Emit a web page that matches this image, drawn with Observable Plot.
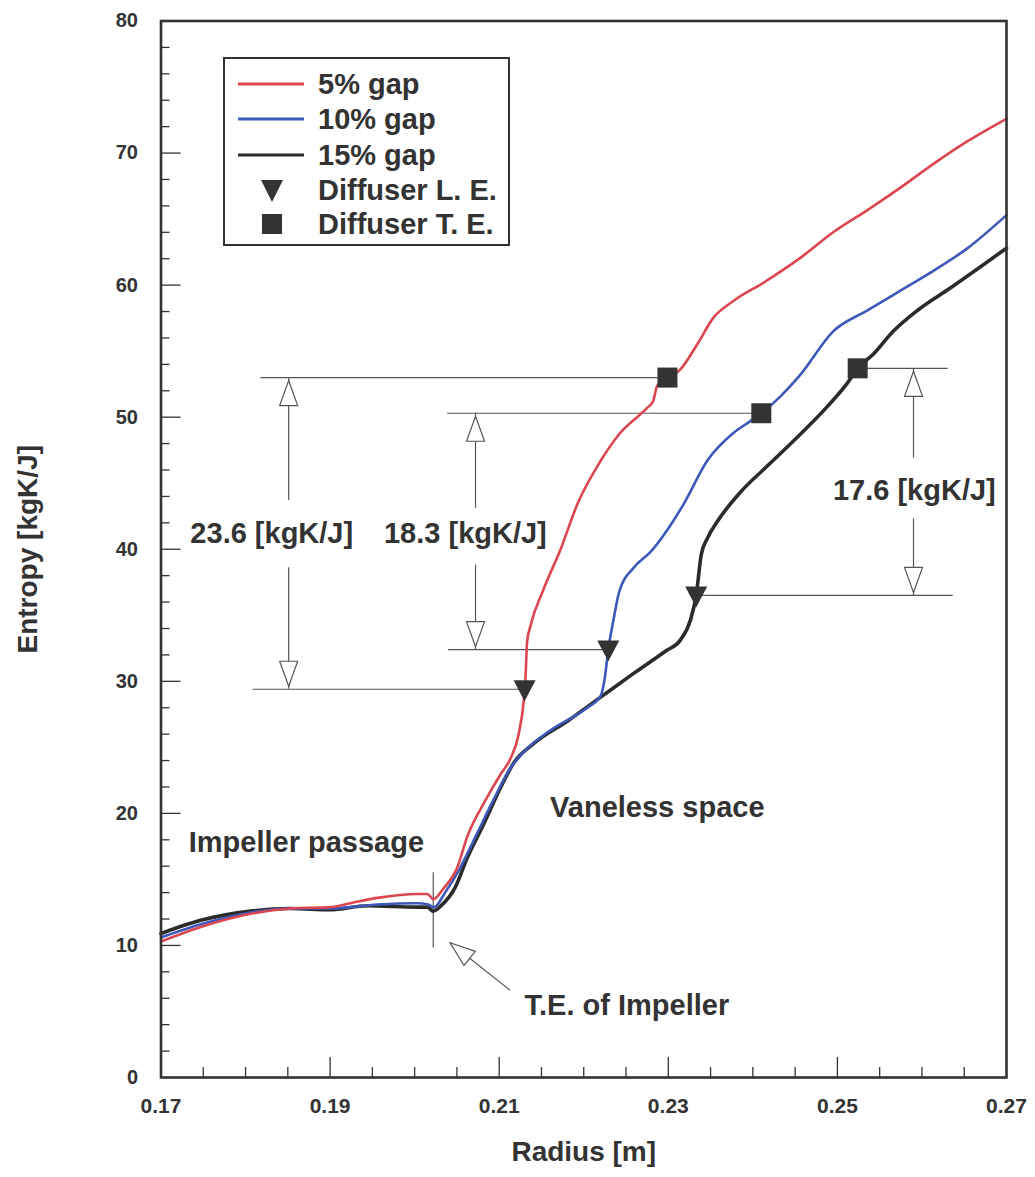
<!DOCTYPE html>
<html><head><meta charset="utf-8">
<script src="https://cdn.jsdelivr.net/npm/d3@7"></script>
<script src="https://cdn.jsdelivr.net/npm/@observablehq/plot@0.6"></script>
<style>
body{margin:0;background:#fff;}
#wrap{position:relative;width:1035px;height:1177px;font-family:"Liberation Sans",Arial,Helvetica,sans-serif;}
#legend{position:absolute;left:223px;top:57px;width:287px;height:189px;border:2.5px solid #333;box-sizing:border-box;background:#fff;}
.row{position:absolute;left:0;height:34px;display:flex;align-items:center;}
.row span{font-weight:bold;font-size:29px;color:#333;position:absolute;left:93px;white-space:nowrap;line-height:34px;}
</style></head><body><div id="wrap"></div>
<script>
// ---- data ----
const radius5  = [0.1700,0.1747,0.1806,0.1853,0.1900,0.1924,0.1956,0.2003,0.2015,0.2022,0.2034,0.2051,0.2062,0.2083,0.2102,0.2113,0.2123,0.2129,0.2131,0.2133,0.2137,0.2152,0.2172,0.2193,0.2220,0.2243,0.2275,0.2282,0.2287,0.2299,0.2314,0.2335,0.2353,0.2377,0.2413,0.2457,0.2495,0.2536,0.2575,0.2614,0.2654,0.2700];
const entropy5 = [10.3,11.4,12.4,12.8,12.9,13.2,13.6,13.9,13.9,13.5,14.3,16.0,18.2,20.9,23.0,24.1,26.0,28.5,30.1,33.0,34.2,36.9,39.9,43.5,46.7,48.8,50.7,51.2,52.4,52.9,53.6,55.6,57.5,58.8,60.2,62.1,64.0,65.7,67.4,69.2,70.9,72.6];
const radius10  = [0.1700,0.1747,0.1806,0.1853,0.1900,0.1956,0.2003,0.2016,0.2023,0.2036,0.2054,0.2074,0.2093,0.2113,0.2133,0.2161,0.2204,0.2220,0.2225,0.2229,0.2235,0.2242,0.2259,0.2279,0.2318,0.2346,0.2377,0.2397,0.2410,0.2433,0.2456,0.2495,0.2536,0.2575,0.2614,0.2654,0.2700];
const entropy10 = [10.6,11.6,12.5,12.8,12.8,13.1,13.2,13.1,12.9,14.0,15.9,18.5,21.0,23.4,24.9,26.3,28.0,28.9,30.3,32.4,34.6,36.8,38.6,39.8,43.4,46.7,48.8,49.7,50.3,51.6,53.2,56.5,58.1,59.6,61.1,62.8,65.3];
const radius15  = [0.1700,0.1747,0.1806,0.1853,0.1900,0.1944,0.2003,0.2015,0.2022,0.2031,0.2048,0.2062,0.2081,0.2102,0.2117,0.2141,0.2181,0.2220,0.2259,0.2297,0.2314,0.2326,0.2333,0.2339,0.2346,0.2358,0.2385,0.2417,0.2448,0.2488,0.2512,0.2524,0.2543,0.2566,0.2595,0.2634,0.2700];
const entropy15 = [10.9,11.9,12.6,12.8,12.7,13.0,12.9,12.9,12.6,13.0,14.4,16.6,19.1,22.0,23.8,25.3,27.0,28.8,30.6,32.3,33.1,34.6,36.5,39.6,40.8,42.1,44.3,46.3,48.2,50.8,52.6,53.7,54.8,56.5,58.1,59.8,62.8];

const seriesNames  = ["5% gap", "10% gap", "15% gap"];
const seriesColors = ["#dc4650", "#3d58b8", "#2b2b2b"];

// diffuser leading / trailing edge markers
const leRadius  = [0.2130, 0.2229, 0.2333];
const leEntropy = [29.4, 32.4, 36.5];
const teRadius  = [0.2299, 0.2410, 0.2524];
const teEntropy = [53.0, 50.3, 53.7];

// dimension annotations
const dimLabels     = ["23.6 [kgK/J]", "18.3 [kgK/J]", "17.6 [kgK/J]"];
const dimLowStart   = [0.1809, 0.2040, 0.2333];
const dimLowEnd     = [0.2130, 0.2229, 0.2637];
const dimHighStart  = [0.1818, 0.2039, 0.2524];
const dimHighEnd    = [0.2299, 0.2410, 0.2631];
const dimArrowX     = [0.1851, 0.2072, 0.2590];
const dimUpperTail  = [43.7, 43.1, 46.9];
const dimLowerTail  = [38.6, 38.8, 42.3];
const dimLabelX     = [0.1831, 0.2060, 0.2591];
const dimLabelY     = [41.2, 41.2, 44.4];

// region labels
const regionLabels = ["Impeller passage", "Vaneless space", "T.E. of Impeller"];
const regionX      = [0.1872, 0.2287, 0.2251];
const regionY      = [17.8, 20.4, 5.45];
// impeller trailing edge marker and pointer
const impTE        = 0.2022;
const impTEspan    = [9.8, 15.5];
const pointerTail  = [0.2113, 6.6];
const pointerTip   = [0.2042, 10.2];

// axes
const xTickLabels = [0.17, 0.19, 0.21, 0.23, 0.25, 0.27];
const xMajorTicks = [0.19, 0.21, 0.23, 0.25];
const xMinorTicks = [0.175,0.18,0.185,0.195,0.2,0.205,0.215,0.22,0.225,0.235,0.24,0.245,0.255,0.26,0.265];
const yTickLabels = [0,10,20,30,40,50,60,70,80];
const yMajorTicks = [10,20,30,40,50,60,70];
const yMinorTicks = [2,4,6,8,12,14,16,18,22,24,26,28,32,34,36,38,42,44,46,48,52,54,56,58,62,64,66,68,72,74,76,78];
const xLabel = "Radius [m]";
const yLabel = "Entropy [kgK/J]";

// ---- build ----
const W = 1035, H = 1177, mL = 160.5, mR = 29, mT = 20.5, mB = 100;
const pxX = (W - mL - mR) / 0.1, pxY = (H - mT - mB) / 80;
const ink = "#333";

const series = [];
[[radius5, entropy5], [radius10, entropy10], [radius15, entropy15]].forEach(([rs, es], k) => {
  rs.forEach((r, i) => series.push({r, s: es[i], name: seriesNames[k]}));
});
const le = leRadius.map((r, i) => ({r, s: leEntropy[i]}));
const te = teRadius.map((r, i) => ({r, s: teEntropy[i]}));
const dims = dimLabels.map((t, i) => ({t, i}));

const triDown = {draw(c){ c.moveTo(-11,-9); c.lineTo(11,-9); c.lineTo(0,12); c.closePath(); }};
const square  = {draw(c){ c.rect(-10,-10,20,20); }};
const headUp  = {draw(c){ c.moveTo(0,3); c.lineTo(9,28); c.lineTo(-9,28); c.closePath(); }};
const headDown= {draw(c){ c.moveTo(0,-3); c.lineTo(9,-28); c.lineTo(-9,-28); c.closePath(); }};
const headPtr = {draw(c){ c.moveTo(0,0); c.lineTo(9,25); c.lineTo(-9,25); c.closePath(); }};

const thin = {stroke: "#555", strokeWidth: 1.2};
const curveOf = name => series.filter(d => d.name === name);

const chart = Plot.plot({
  width: W, height: H,
  marginLeft: mL, marginRight: mR, marginTop: mT, marginBottom: mB,
  style: {fontFamily: "'Liberation Sans', Arial, Helvetica, sans-serif", background: "#fff"},
  x: {domain: [0.17, 0.27], axis: null},
  y: {domain: [0, 80], axis: null},
  marks: [
    // ticks (inward)
    Plot.ruleX(xMajorTicks, {x: d => d, y1: 0, y2: 20 / pxY, stroke: ink, strokeWidth: 1.3}),
    Plot.ruleX(xMinorTicks, {x: d => d, y1: 0, y2: 10 / pxY, stroke: ink, strokeWidth: 1.3}),
    Plot.ruleY(yMajorTicks, {y: d => d, x1: 0.17, x2: 0.17 + 20 / pxX, stroke: ink, strokeWidth: 1.3}),
    Plot.ruleY(yMinorTicks, {y: d => d, x1: 0.17, x2: 0.17 + 9 / pxX, stroke: ink, strokeWidth: 1.3}),
    // tick labels
    Plot.text(xTickLabels, {x: d => d, frameAnchor: "bottom", dy: 35, text: d => d3.format(".2f")(d),
      fontSize: 21, fontWeight: "bold", fill: ink}),
    Plot.text(yTickLabels, {y: d => d, frameAnchor: "left", dx: -23, textAnchor: "end", text: d => String(d),
      fontSize: 20, fontWeight: "bold", fill: ink}),
    // axis titles
    Plot.text([xLabel], {frameAnchor: "bottom", dy: 83, text: d => d, fontSize: 28, fontWeight: "bold", fill: ink}),
    Plot.text([yLabel], {frameAnchor: "left", dx: -133, rotate: -90, textAnchor: "middle", text: d => d, fontSize: 28, fontWeight: "bold", fill: ink}),
    // dimension lines
    Plot.ruleY(dims, {y: d => leEntropy[d.i], x1: d => dimLowStart[d.i], x2: d => dimLowEnd[d.i], ...thin}),
    Plot.ruleY(dims, {y: d => teEntropy[d.i], x1: d => dimHighStart[d.i], x2: d => dimHighEnd[d.i], ...thin}),
    Plot.ruleX(dims, {x: d => dimArrowX[d.i], y1: d => dimUpperTail[d.i], y2: d => teEntropy[d.i], ...thin}),
    Plot.ruleX(dims, {x: d => dimArrowX[d.i], y1: d => dimLowerTail[d.i], y2: d => leEntropy[d.i], ...thin}),
    Plot.dot(dims, {x: d => dimArrowX[d.i], y: d => teEntropy[d.i], symbol: headUp, fill: "#fff", ...thin}),
    Plot.dot(dims, {x: d => dimArrowX[d.i], y: d => leEntropy[d.i], symbol: headDown, fill: "#fff", ...thin}),
    Plot.text(dims, {x: d => dimLabelX[d.i], y: d => dimLabelY[d.i], text: d => d.t, fontSize: 29, fontWeight: "bold", fill: ink}),
    // impeller trailing edge
    Plot.ruleX([impTE], {x: d => d, y1: impTEspan[0], y2: impTEspan[1], ...thin}),
    Plot.link([0], {x1: pointerTail[0], y1: pointerTail[1], x2: pointerTip[0], y2: pointerTip[1], ...thin}),
    Plot.dot([0], {x: pointerTip[0], y: pointerTip[1], symbol: headPtr, rotate: -51.3, fill: "#fff", ...thin}),
    // region labels
    Plot.text(regionLabels, {x: (d, i) => regionX[i], y: (d, i) => regionY[i], text: d => d, fontSize: 29, fontWeight: "bold", fill: ink}),
    // curves
    Plot.line(curveOf(seriesNames[2]), {x: "r", y: "s", stroke: seriesColors[2], strokeWidth: 3.6, curve: "monotone-x"}),
    Plot.line(curveOf(seriesNames[1]), {x: "r", y: "s", stroke: seriesColors[1], strokeWidth: 2.6, curve: "monotone-x"}),
    Plot.line(curveOf(seriesNames[0]), {x: "r", y: "s", stroke: seriesColors[0], strokeWidth: 2.6, curve: "monotone-x"}),
    // markers
    Plot.dot(le, {x: "r", y: "s", symbol: triDown, fill: ink, stroke: null}),
    Plot.dot(te, {x: "r", y: "s", symbol: square, fill: ink, stroke: null}),
    Plot.frame({stroke: ink, strokeWidth: 2.6})
  ]
});

const wrap = document.getElementById("wrap");
wrap.appendChild(chart);

// legend (overlay)
const legend = document.createElement("div");
legend.id = "legend";
const rowsY = [8, 43, 79, 114, 148];
const legendItems = seriesNames.map((n, i) => ({label: n, kind: "line", color: seriesColors[i]}))
  .concat([{label: "Diffuser L. E.", kind: "tri"}, {label: "Diffuser T. E.", kind: "sq"}]);
legendItems.forEach((it, i) => {
  const row = document.createElement("div");
  row.className = "row";
  row.style.top = rowsY[i] + "px";
  row.style.width = "280px";
  let sw = "";
  if (it.kind === "line") sw = `<svg width="90" height="34" style="position:absolute;left:0;top:0"><line x1="13" x2="79" y1="17" y2="17" stroke="${it.color}" stroke-width="3.2"/></svg>`;
  else if (it.kind === "tri") sw = `<svg width="90" height="34" style="position:absolute;left:0;top:0"><path d="M36,7H58L47,29Z" fill="${ink}"/></svg>`;
  else sw = `<svg width="90" height="34" style="position:absolute;left:0;top:0"><rect x="37" y="7" width="20" height="20" fill="${ink}"/></svg>`;
  row.innerHTML = sw + `<span>${it.label}</span>`;
  legend.appendChild(row);
});
wrap.appendChild(legend);
</script>
</body></html>
